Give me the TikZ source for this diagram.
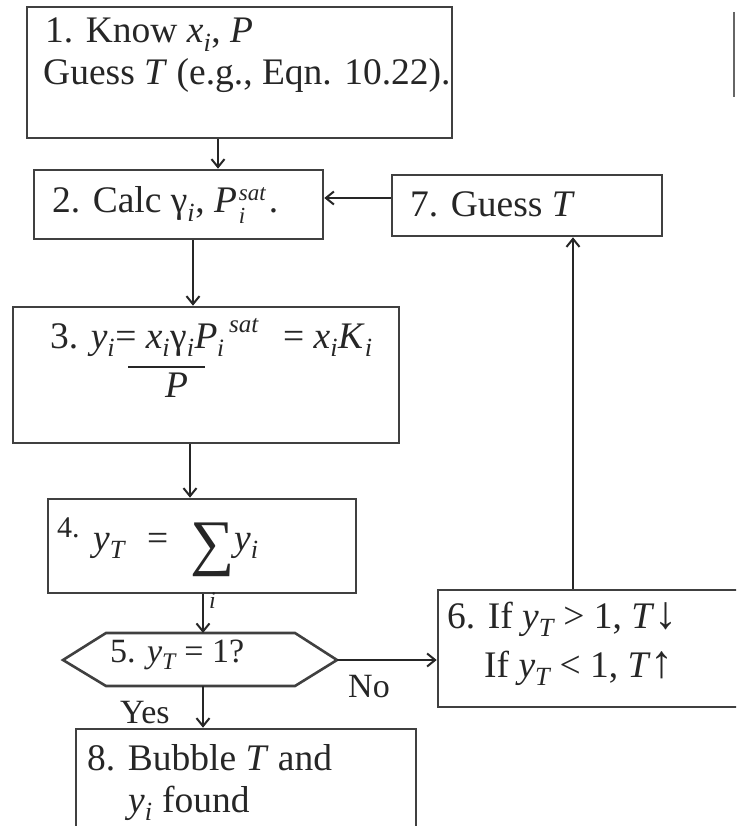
\documentclass[tikz,border=0pt]{standalone}
\usepackage{fontspec}
\setmainfont{Liberation Serif}
\usetikzlibrary{arrows.meta}
\newcommand\isub[1]{\textsubscript{\itshape #1}}
\newcommand\lowi[1]{\raisebox{-10pt}{\fontsize{23}{28}\selectfont\itshape #1}}
\newcommand\highs[1]{\raisebox{13pt}{\fontsize{23}{28}\selectfont\itshape #1}}
\newcommand\bigarr[1]{{\fontsize{46}{46}\selectfont #1}}
\begin{document}
\begin{tikzpicture}[x=1pt,y=-1pt,
  box/.style={draw=black!75, line width=2.6pt, rectangle, inner sep=0pt},
  frame/.style={draw=black!75, line width=2.6pt},
  txt/.style={anchor=base west, inner sep=0pt, text=black!85, font=\fontsize{37.5}{44}\selectfont},
  smalltxt/.style={txt, font=\fontsize{34}{40}\selectfont},
  arr/.style={draw=black!85, line width=2pt, -{Straight Barb[length=8pt,width=13pt,line width=2pt]}}]
\useasboundingbox (0,0) rectangle (736,826);
\clip (0,0) rectangle (736,826);

% boxes
\node[box, minimum width=425pt, minimum height=131pt] (b1) at (239.5,72.5) {};
\node[box, minimum width=289pt, minimum height=69pt] (b2) at (178.5,204.5) {};
\node[box, minimum width=270pt, minimum height=61pt] (b7) at (527,205.5) {};
\node[box, minimum width=386pt, minimum height=136pt] (b3) at (206,375) {};
\node[box, minimum width=308pt, minimum height=94pt] (b4) at (202,546) {};
\node[box, minimum width=322pt, minimum height=117pt] (b6) at (599,648.5) {};
\node[box, minimum width=340pt, minimum height=111pt] (b8) at (246,784.5) {};
% hexagon
\draw[frame] (63,660) -- (106,633) -- (295,633) -- (337,660) -- (295,686) -- (106,686) -- cycle;
\coordinate (h5w) at (63,660);
\coordinate (h5e) at (337,660);
\coordinate (h5n) at (203,633);
\coordinate (h5s) at (203,686);
% partial box edge at top right
\draw[draw=black!60, line width=2.4pt] (734,12) -- (734,97);

% texts
\node[txt] (t1a) at (45,43) {1. Know \textit{x}\isub{i}, \textit{P}};
\node[txt] (t1b) at (43,85) {Guess \textit{T} (e.g., Eqn. 10.22).};
\node[txt] (t2) at (52,213) {2. Calc γ\isub{i}, \textit{P}\kern2pt\makebox[0pt][l]{\lowi{i}}\highs{sat}\kern3pt.};
\node[txt] (t7) at (410,217) {7. Guess \textit{T}};
\node[txt] (t3a) at (50,348) {3. \textit{y}\isub{i}= \textit{x}\isub{i}γ\isub{i}\textit{P}};
\node[txt, font=\fontsize{25}{30}\selectfont\itshape] (t3sat) at (229,332) {sat};
\node[txt, font=\fontsize{25}{30}\selectfont\itshape] (t3i) at (217,356) {i};
\node[txt] (t3b) at (283,348) {= \textit{x}\isub{i}\textit{K}\isub{i}};
\draw[draw=black!85, line width=1.8pt] (128,367) -- (205,367);
\node[txt] (t3p) at (165,397) {\textit{P}};
\node[txt, font=\fontsize{30}{36}\selectfont] (t4n) at (57,537) {4.};
\node[txt] (t4a) at (93,550) {\textit{y}\isub{T}};
\node[txt] (t4eq) at (147,550) {=};
\node[txt, font=\fontsize{62}{70}\selectfont] (t4s) at (190,563) {∑};
\node[txt] (t4b) at (234,550) {\textit{y}\isub{i}};
\node[txt, font=\fontsize{24}{28}\selectfont\itshape] (t4i) at (209,608) {i};
\node[smalltxt] (t5) at (110,662) {5. \textit{y}\isub{T} = 1?};
\node[smalltxt] (tno) at (348,697) {No};
\node[smalltxt] (tyes) at (120,723) {Yes};
\node[txt] (t6a) at (447,628) {6. If \textit{y}\isub{T} > 1, \textit{T}\bigarr{↓}};
\node[txt] (t6b) at (484,677) {If \textit{y}\isub{T} < 1, \textit{T}\bigarr{↑}};
\node[txt] (t8a) at (87,770) {8. Bubble \textit{T} and};
\node[txt] (t8b) at (128,812) {\textit{y}\isub{i} found};

% arrows
\coordinate (x12) at (218,0);
\coordinate (x23) at (193,0);
\coordinate (x34) at (190,0);
\coordinate (x45) at (203,0);
\coordinate (x67) at (573,0);
\coordinate (y72) at (0,198);
\draw[arr] (b1.south -| x12) -- (b2.north -| x12);
\draw[arr] (b2.south -| x23) -- (b3.north -| x23);
\draw[arr] (b7.west |- y72) -- (b2.east |- y72);
\draw[arr] (b3.south -| x34) -- (b4.north -| x34);
\draw[arr] (b4.south -| x45) -- (h5n);
\draw[arr] (h5e) -- (b6.west |- h5e);
\draw[arr] (h5s) -- (b8.north -| h5s);
\draw[arr] (b6.north -| x67) -- (b7.south -| x67);
\end{tikzpicture}
\end{document}
